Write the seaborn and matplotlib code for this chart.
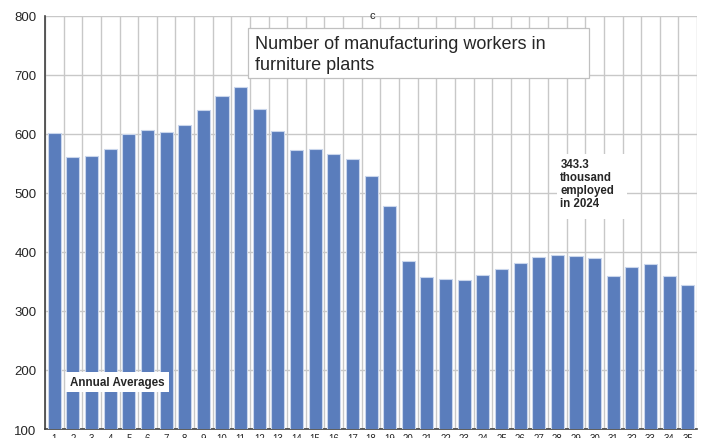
import seaborn as sns
import pandas as pd
from matplotlib import pyplot as plt
from matplotlib.patches import Rectangle
from matplotlib.ticker import FixedLocator

# annual averages, thousands of workers
years = [str(i) for i in range(1, 36)]
workers = [602, 561, 563, 575, 600, 607, 604, 615, 641, 664,
           680, 643, 605, 573, 574, 566, 558, 529, 478, 384,
           358, 354, 352, 361, 371, 381, 391, 395, 393, 389,
           360, 375, 379, 359, 343.3]
yticks = [100, 200, 300, 400, 500, 600, 700, 800]

df = pd.DataFrame({"year": years, "workers": workers})

sns.set_style("white")
plt.rcParams['font.family'] = ['Liberation Sans', 'DejaVu Sans']

fig = plt.figure(figsize=(7.05, 4.39), dpi=100)
ax = fig.add_axes([0.0638, 0.0205, 0.925, 0.941])

sns.barplot(x="year", y="workers", data=df, color="#5a7dbc", saturation=1,
            width=0.7, edgecolor="#c9d6ec", linewidth=0.8, ax=ax, zorder=3)

ax.set_ylim(100, 800)
ax.set_xlim(-0.5, len(years) - 0.5)
ax.set_yticks(yticks)
ax.xaxis.set_minor_locator(FixedLocator([i + 0.5 for i in range(-1, len(years))]))
ax.grid(True, axis="y", which="major", color="#c8c8c8", linewidth=1, zorder=0)
ax.grid(True, axis="x", which="minor", color="#c8c8c8", linewidth=1, zorder=0)
ax.set_axisbelow(True)
ax.set_xlabel("")
ax.set_ylabel("")
ax.tick_params(axis="y", labelsize=9.5, length=4, color="#404040", pad=2)
ax.tick_params(axis="x", which="major", labelsize=7, length=0, pad=3)
ax.tick_params(axis="x", which="minor", length=0)

for side in ["top", "right"]:
    ax.spines[side].set_visible(False)
ax.spines["left"].set_color("#404040")
ax.spines["bottom"].set_color("#404040")
ax.spines["left"].set_linewidth(1.2)
ax.spines["bottom"].set_linewidth(1.2)

ax.text(17.05, 801, "c", fontsize=8, ha="center", va="center", zorder=6)

# title box
ax.add_patch(Rectangle((10.4, 695), 18.3, 84.5, fc="white", ec="#c0c0c0",
                       lw=0.9, zorder=5))
ax.text(10.75, 736, "Number of manufacturing workers in\nfurniture plants",
        fontsize=13, ha="left", va="center", linespacing=1.3, zorder=6)

ax.text(0.85, 179, "Annual Averages", fontsize=8.4, fontweight="bold",
        ha="left", va="center", zorder=5,
        bbox=dict(boxstyle="square,pad=0.35", fc="white", ec="none"))

ax.add_patch(Rectangle((26.98, 456), 3.76, 110, fc="white", ec="none", zorder=4))
ax.text(27.16, 516, "343.3\nthousand\nemployed\nin 2024", fontsize=8.3,
        fontweight="bold", ha="left", va="center", linespacing=1.1, zorder=5)

fig.savefig("out.png", dpi=100)
